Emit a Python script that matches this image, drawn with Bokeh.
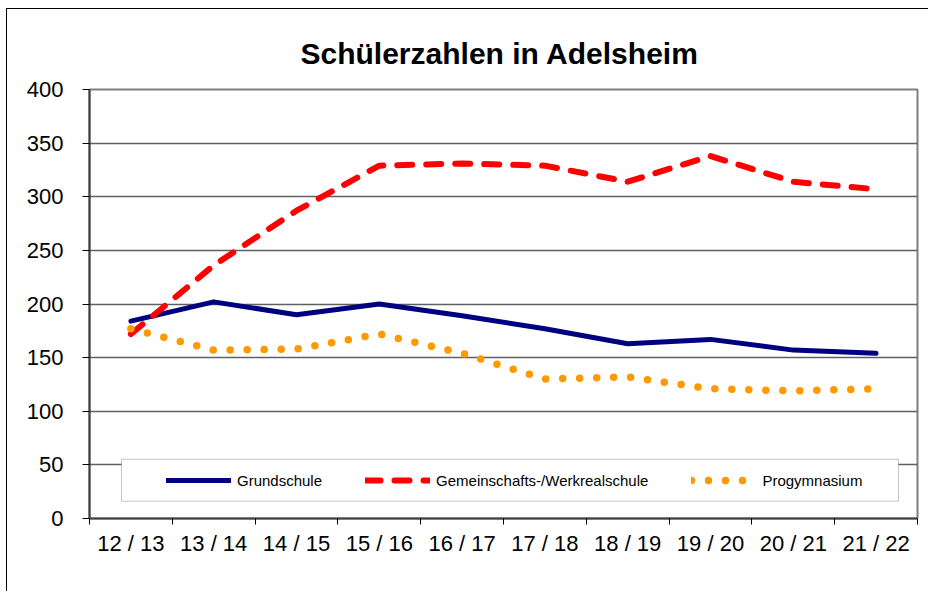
from bokeh.plotting import figure
from bokeh.models import (FactorRange, Range1d, LinearAxis, FixedTicker, Legend, LegendItem,
                          BoxAnnotation, Grid)
from bokeh.embed import file_html
from bokeh.resources import INLINE

# ---------------- data ----------------
school_years = ["12 / 13", "13 / 14", "14 / 15", "15 / 16", "16 / 17",
                "17 / 18", "18 / 19", "19 / 20", "20 / 21", "21 / 22"]
grundschule = [184, 202, 190, 200, 189, 177, 163, 167, 157, 154]
gemeinschafts_werkreal = [172, 236, 287, 329, 331, 329, 314, 338, 314, 307]
progymnasium = [177, 157, 158, 172, 154, 130, 132, 121, 119, 121]
y_ticks = [0, 50, 100, 150, 200, 250, 300, 350, 400]
title_text = "Schülerzahlen in Adelsheim"
series_names = ["Grundschule", "Gemeinschafts-/Werkrealschule", "Progymnasium"]

FONT = "Liberation Sans"

p = figure(width=922, height=583, x_range=FactorRange(*school_years),
           y_range=Range1d(0, 400), x_axis_type=None, y_axis_type=None,
           output_backend="svg", toolbar_location=None,
           min_border_left=82, min_border_right=12, min_border_top=80, min_border_bottom=74)
p.margin = (8, 0, 0, 6)
p.styles = {"border-top": "1px solid #000000", "border-left": "1px solid #000000",
            "border-right": "0px none", "border-bottom": "0px none"}

p.background_fill_color = "white"
p.border_fill_color = "white"
p.outline_line_color = "#808080"
p.outline_line_width = 2

# title
p.title.text = title_text
p.title.text_font = FONT
p.title.text_font_size = "30px"
p.title.text_font_style = "bold"
p.title.text_color = "#000000"
p.title.align = "left"
p.title.offset = 211
p.title.standoff = 40

# y axis
yaxis = LinearAxis(ticker=FixedTicker(ticks=y_ticks))
yaxis.axis_line_color = "#404040"
yaxis.axis_line_width = 2
yaxis.major_tick_line_color = "#000000"
yaxis.major_tick_out = 7
yaxis.major_tick_in = 0
yaxis.minor_tick_line_color = None
yaxis.major_label_standoff = 19
yaxis.major_label_text_font = FONT
yaxis.major_label_text_font_size = "22px"
yaxis.major_label_text_color = "#000000"
p.add_layout(yaxis, "left")

# x axis: labels at category centres, tick marks at category boundaries
n = len(school_years)
centres = [i + 0.5 for i in range(n)]
bounds = list(range(n + 1))
xaxis = LinearAxis(ticker=FixedTicker(ticks=centres, minor_ticks=bounds))
xaxis.major_label_overrides = {c: lab for c, lab in zip(centres, school_years)}
xaxis.axis_line_color = "#404040"
xaxis.axis_line_width = 2
xaxis.major_tick_line_color = None
xaxis.major_tick_out = 0
xaxis.major_tick_in = 0
xaxis.minor_tick_line_color = "#000000"
xaxis.minor_tick_out = 6
xaxis.minor_tick_in = 0
xaxis.major_label_standoff = 6
xaxis.major_label_text_font = FONT
xaxis.major_label_text_font_size = "22px"
xaxis.major_label_text_color = "#000000"
p.add_layout(xaxis, "below")

# grid
ygrid = Grid(dimension=1, ticker=yaxis.ticker)
ygrid.grid_line_color = "#606060"
ygrid.grid_line_width = 1.5
p.add_layout(ygrid)

# lines
r1 = p.line(school_years, grundschule, line_color="#000080", line_width=5,
            line_join="round", line_cap="round")
r2 = p.line(school_years, gemeinschafts_werkreal, line_color="#FF0000", line_width=6,
            line_dash="15 14", line_join="round", line_cap="round")
r3 = p.line(school_years, progymnasium, line_color="#FF9900", line_width=7.5,
            line_dash="0 17", line_join="round", line_cap="round")

# legend frame
box = BoxAnnotation(left=0.386, right=9.77, bottom=16.1, top=55.3,
                    fill_color="white", fill_alpha=1.0,
                    line_color="#404040", line_width=1, level="underlay")
p.add_layout(box)

legend = Legend(items=[LegendItem(label=series_names[0], renderers=[r1]),
                       LegendItem(label=series_names[1], renderers=[r2]),
                       LegendItem(label=series_names[2], renderers=[r3])],
                orientation="horizontal", location=(77, 28),
                background_fill_alpha=0, border_line_alpha=0,
                padding=0, margin=0, spacing=43,
                glyph_width=65, glyph_height=20, label_standoff=6,
                label_text_font=FONT, label_text_font_size="15px",
                label_text_color="#000000")
p.add_layout(legend, "center")

open("out.html", "w").write(file_html(p, INLINE))
